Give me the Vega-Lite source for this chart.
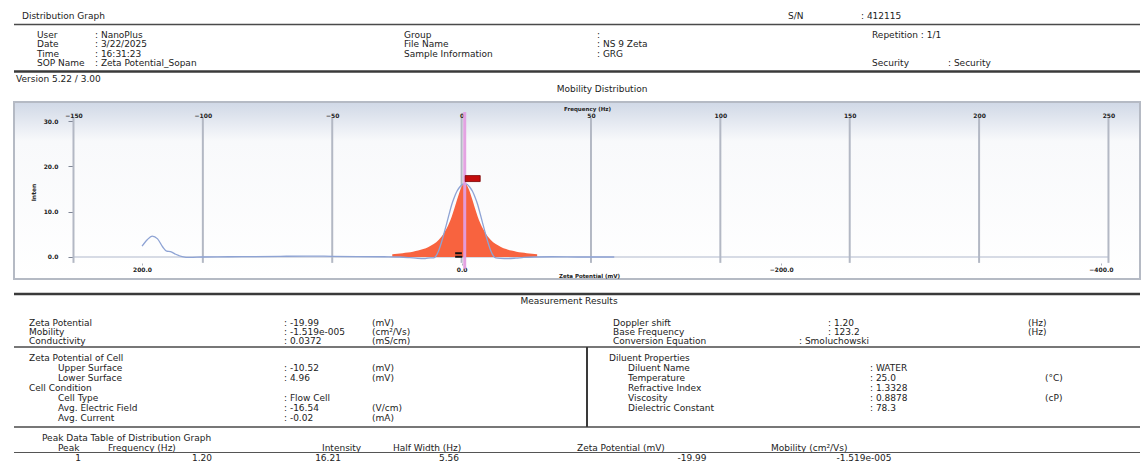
{
  "$schema": "https://vega.github.io/schema/vega-lite/v6.json",
  "padding": {"left": 12, "right": 4, "top": 0, "bottom": 0},
  "background": "white",
  "spacing": 0,
  "config": {
    "view": {"stroke": null},
    "font": "DejaVu Sans",
    "text": {"font": "DejaVu Sans", "fontSize": 9, "color": "#222222", "baseline": "middle"}
  },
  "datasets": {
    "header": [
      {"line": 1, "col": 2, "t": "Distribution Graph"},
      {"line": 1, "col": 8, "t": "S/N"},
      {"line": 1, "col": 9, "t": ": 412115"},
      {"line": 3, "col": 3, "t": "User"},
      {"line": 3, "col": 4, "t": ": NanoPlus"},
      {"line": 3, "col": 5, "t": "Group"},
      {"line": 3, "col": 6, "t": ":"},
      {"line": 3, "col": 10, "t": "Repetition : 1/1"},
      {"line": 4, "col": 3, "t": "Date"},
      {"line": 4, "col": 4, "t": ": 3/22/2025"},
      {"line": 4, "col": 5, "t": "File Name"},
      {"line": 4, "col": 6, "t": ": NS 9 Zeta"},
      {"line": 5, "col": 3, "t": "Time"},
      {"line": 5, "col": 4, "t": ": 16:31:23"},
      {"line": 5, "col": 5, "t": "Sample Information"},
      {"line": 5, "col": 6, "t": ": GRG"},
      {"line": 6, "col": 3, "t": "SOP Name"},
      {"line": 6, "col": 4, "t": ": Zeta Potential_Sopan"},
      {"line": 6, "col": 10, "t": "Security"},
      {"line": 6, "col": 11, "t": ": Security"},
      {"line": 8, "col": 1, "t": "Version 5.22 / 3.00"}
    ],
    "headerCenter": [
      {"line": 9, "col": 7, "t": "Mobility Distribution"}
    ],
    "results": [
      {"line": 3, "col": 1, "t": "Zeta Potential"},
      {"line": 3, "col": 7, "t": ": -19.99"},
      {"line": 3, "col": 10, "t": "(mV)"},
      {"line": 3, "col": 17, "t": "Doppler shift"},
      {"line": 3, "col": 22, "t": ": 1.20"},
      {"line": 3, "col": 25, "t": "(Hz)"},
      {"line": 4, "col": 1, "t": "Mobility"},
      {"line": 4, "col": 7, "t": ": -1.519e-005"},
      {"line": 4, "col": 10, "t": "(cm²/Vs)"},
      {"line": 4, "col": 17, "t": "Base Frequency"},
      {"line": 4, "col": 22, "t": ": 123.2"},
      {"line": 4, "col": 25, "t": "(Hz)"},
      {"line": 5, "col": 1, "t": "Conductivity"},
      {"line": 5, "col": 7, "t": ": 0.0372"},
      {"line": 5, "col": 10, "t": "(mS/cm)"},
      {"line": 5, "col": 17, "t": "Conversion Equation"},
      {"line": 5, "col": 21, "t": ": Smoluchowski"},
      {"line": 7, "col": 1, "t": "Zeta Potential of Cell"},
      {"line": 7, "col": 16, "t": "Diluent Properties"},
      {"line": 8, "col": 3, "t": "Upper Surface"},
      {"line": 8, "col": 7, "t": ": -10.52"},
      {"line": 8, "col": 10, "t": "(mV)"},
      {"line": 8, "col": 18, "t": "Diluent Name"},
      {"line": 8, "col": 24, "t": ": WATER"},
      {"line": 9, "col": 3, "t": "Lower Surface"},
      {"line": 9, "col": 7, "t": ": 4.96"},
      {"line": 9, "col": 10, "t": "(mV)"},
      {"line": 9, "col": 18, "t": "Temperature"},
      {"line": 9, "col": 24, "t": ": 25.0"},
      {"line": 9, "col": 26, "t": "(°C)"},
      {"line": 10, "col": 1, "t": "Cell Condition"},
      {"line": 10, "col": 18, "t": "Refractive Index"},
      {"line": 10, "col": 24, "t": ": 1.3328"},
      {"line": 11, "col": 3, "t": "Cell Type"},
      {"line": 11, "col": 7, "t": ": Flow Cell"},
      {"line": 11, "col": 18, "t": "Viscosity"},
      {"line": 11, "col": 24, "t": ": 0.8878"},
      {"line": 11, "col": 26, "t": "(cP)"},
      {"line": 12, "col": 3, "t": "Avg. Electric Field"},
      {"line": 12, "col": 7, "t": ": -16.54"},
      {"line": 12, "col": 10, "t": "(V/cm)"},
      {"line": 12, "col": 18, "t": "Dielectric Constant"},
      {"line": 12, "col": 24, "t": ": 78.3"},
      {"line": 13, "col": 3, "t": "Avg. Current"},
      {"line": 13, "col": 7, "t": ": -0.02"},
      {"line": 13, "col": 10, "t": "(mA)"},
      {"line": 15, "col": 2, "t": "Peak Data Table of Distribution Graph"},
      {"line": 16, "col": 3, "t": "Peak"},
      {"line": 16, "col": 5, "t": "Frequency (Hz)"},
      {"line": 16, "col": 8, "t": "Intensity"},
      {"line": 16, "col": 11, "t": "Half Width (Hz)"},
      {"line": 16, "col": 14, "t": "Zeta Potential (mV)"},
      {"line": 16, "col": 20, "t": "Mobility (cm²/Vs)"}
    ],
    "resultsCenter": [
      {"line": 2, "col": 13, "t": "Measurement Results"},
      {"line": 18, "col": 4, "t": "1"},
      {"line": 18, "col": 6, "t": "1.20"},
      {"line": 18, "col": 9, "t": "16.21"},
      {"line": 18, "col": 12, "t": "5.56"},
      {"line": 18, "col": 19, "t": "-19.99"},
      {"line": 18, "col": 23, "t": "-1.519e-005"}
    ],
    "gridFreq": [
      {"freq": -150}, {"freq": -100}, {"freq": -50}, {"freq": 0}, {"freq": 50},
      {"freq": 100}, {"freq": 150}, {"freq": 200}, {"freq": 250}
    ],
    "fit": [
      {"freq": -26.8, "intensity": 0.0},
      {"freq": -26.8, "intensity": 0.62},
      {"freq": -24.8, "intensity": 0.71},
      {"freq": -22.8, "intensity": 0.83},
      {"freq": -20.8, "intensity": 0.97},
      {"freq": -18.8, "intensity": 1.16},
      {"freq": -16.8, "intensity": 1.41},
      {"freq": -14.8, "intensity": 1.75},
      {"freq": -12.8, "intensity": 2.21},
      {"freq": -10.8, "intensity": 2.86},
      {"freq": -8.8, "intensity": 3.83},
      {"freq": -7.8, "intensity": 4.48},
      {"freq": -6.8, "intensity": 5.28},
      {"freq": -5.8, "intensity": 6.27},
      {"freq": -4.8, "intensity": 7.49},
      {"freq": -3.8, "intensity": 8.96},
      {"freq": -2.8, "intensity": 10.68},
      {"freq": -1.8, "intensity": 12.56},
      {"freq": -0.8, "intensity": 14.35},
      {"freq": 0.2, "intensity": 15.70},
      {"freq": 1.2, "intensity": 16.21},
      {"freq": 2.2, "intensity": 15.70},
      {"freq": 3.2, "intensity": 14.35},
      {"freq": 4.2, "intensity": 12.56},
      {"freq": 5.2, "intensity": 10.68},
      {"freq": 6.2, "intensity": 8.96},
      {"freq": 7.2, "intensity": 7.49},
      {"freq": 8.2, "intensity": 6.27},
      {"freq": 9.2, "intensity": 5.28},
      {"freq": 10.2, "intensity": 4.48},
      {"freq": 11.2, "intensity": 3.83},
      {"freq": 13.2, "intensity": 2.86},
      {"freq": 15.2, "intensity": 2.21},
      {"freq": 17.2, "intensity": 1.75},
      {"freq": 19.2, "intensity": 1.41},
      {"freq": 21.2, "intensity": 1.16},
      {"freq": 23.2, "intensity": 0.97},
      {"freq": 25.2, "intensity": 0.83},
      {"freq": 27.2, "intensity": 0.71},
      {"freq": 29.2, "intensity": 0.62},
      {"freq": 29.2, "intensity": 0.0}
    ],
    "measured": [
      {"freq": -123.5, "intensity": 2.4},
      {"freq": -121.5, "intensity": 3.8},
      {"freq": -119.6, "intensity": 4.6},
      {"freq": -117.5, "intensity": 4.0},
      {"freq": -115.5, "intensity": 2.2},
      {"freq": -114.0, "intensity": 1.3},
      {"freq": -112.5, "intensity": 1.2},
      {"freq": -110.5, "intensity": 0.6},
      {"freq": -108.0, "intensity": 0.1},
      {"freq": -105.0, "intensity": -0.1},
      {"freq": -100.0, "intensity": 0.0},
      {"freq": -90.0, "intensity": 0.05},
      {"freq": -80.0, "intensity": 0.1},
      {"freq": -70.0, "intensity": 0.15},
      {"freq": -60.0, "intensity": 0.2},
      {"freq": -50.0, "intensity": 0.15},
      {"freq": -40.0, "intensity": 0.1},
      {"freq": -30.0, "intensity": 0.05},
      {"freq": -24.0, "intensity": 0.0},
      {"freq": -20.0, "intensity": -0.15},
      {"freq": -17.0, "intensity": -0.3},
      {"freq": -14.0, "intensity": -0.35},
      {"freq": -12.0, "intensity": -0.2},
      {"freq": -10.8, "intensity": -0.2},
      {"freq": -9.8, "intensity": 0.3},
      {"freq": -8.8, "intensity": 1.5},
      {"freq": -7.8, "intensity": 3.2},
      {"freq": -6.8, "intensity": 5.2},
      {"freq": -5.8, "intensity": 7.3},
      {"freq": -4.8, "intensity": 9.5},
      {"freq": -3.8, "intensity": 11.6},
      {"freq": -2.8, "intensity": 13.2},
      {"freq": -1.8, "intensity": 14.5},
      {"freq": -0.8, "intensity": 15.4},
      {"freq": 0.2, "intensity": 16.0},
      {"freq": 1.2, "intensity": 16.2},
      {"freq": 2.2, "intensity": 16.0},
      {"freq": 3.2, "intensity": 15.4},
      {"freq": 4.2, "intensity": 14.5},
      {"freq": 5.2, "intensity": 13.2},
      {"freq": 6.2, "intensity": 11.6},
      {"freq": 7.2, "intensity": 9.5},
      {"freq": 8.2, "intensity": 7.3},
      {"freq": 9.2, "intensity": 5.2},
      {"freq": 10.2, "intensity": 3.2},
      {"freq": 11.2, "intensity": 1.5},
      {"freq": 12.2, "intensity": 0.3},
      {"freq": 13.2, "intensity": -0.2},
      {"freq": 15.0, "intensity": -0.3},
      {"freq": 18.0, "intensity": -0.35},
      {"freq": 21.0, "intensity": -0.25},
      {"freq": 24.0, "intensity": -0.1},
      {"freq": 28.0, "intensity": 0.0},
      {"freq": 35.0, "intensity": 0.05},
      {"freq": 45.0, "intensity": 0.0},
      {"freq": 59.0, "intensity": 0.0}
    ],
    "peaks": [
      {"peak": 1, "freq": 1.2, "intensity": 16.21, "halfWidth": 5.56, "zeta": -19.99}
    ]
  },
  "vconcat": [
    {
      "width": 1126,
      "height": 101,
      "layer": [
        {
          "data": {"name": "header"},
          "mark": {"type": "text", "align": "left"},
          "encoding": {
            "x": {"field": "col", "type": "quantitative", "axis": null,
                  "scale": {"domain": [1,2,3,4,5,6,7,8,9,10,11], "range": [2,8,23,81,390,583,588,774,847,858,934], "nice": false, "zero": false}},
            "y": {"field": "line", "type": "quantitative", "axis": null,
                  "scale": {"domain": [1,2,3,4,5,6,7,8,9], "range": [16,24.5,34.5,44,53.5,63,71.5,79,89], "nice": false, "zero": false}},
            "text": {"field": "t"}
          }
        },
        {
          "data": {"name": "headerCenter"},
          "mark": {"type": "text", "align": "center"},
          "encoding": {
            "x": {"field": "col", "type": "quantitative", "axis": null,
                  "scale": {"domain": [1,2,3,4,5,6,7,8,9,10,11], "range": [2,8,23,81,390,583,588,774,847,858,934], "nice": false, "zero": false}},
            "y": {"field": "line", "type": "quantitative", "axis": null,
                  "scale": {"domain": [1,2,3,4,5,6,7,8,9], "range": [16,24.5,34.5,44,53.5,63,71.5,79,89], "nice": false, "zero": false}},
            "text": {"field": "t"}
          }
        },
        {
          "data": {"values": [{}]},
          "mark": {"type": "rule", "color": "#4a4a4a", "strokeWidth": 1.5},
          "encoding": {
            "y": {"datum": 2, "type": "quantitative", "axis": null,
                  "scale": {"domain": [1,2,3,4,5,6,7,8,9], "range": [16,24.5,34.5,44,53.5,63,71.5,79,89], "nice": false, "zero": false}}
          }
        },
        {
          "data": {"values": [{}]},
          "mark": {"type": "rule", "color": "#3a3a3a", "strokeWidth": 2.5},
          "encoding": {
            "y": {"datum": 7, "type": "quantitative", "axis": null,
                  "scale": {"domain": [1,2,3,4,5,6,7,8,9], "range": [16,24.5,34.5,44,53.5,63,71.5,79,89], "nice": false, "zero": false}}
          }
        }
      ]
    },
    {
      "width": 1126,
      "height": 177,
      "view": {
        "stroke": "#b5bac4",
        "strokeWidth": 2,
        "fill": {"gradient": "linear", "x1": 0, "y1": 0, "x2": 0, "y2": 1,
                 "stops": [{"offset": 0, "color": "#d0d8e6"}, {"offset": 0.22, "color": "#f8f9fb"}, {"offset": 1, "color": "#ffffff"}]}
      },
      "resolve": {"scale": {"x": "independent"}, "axis": {"x": "independent", "y": "independent"}},
      "layer": [
        {
          "data": {"name": "gridFreq"},
          "mark": {"type": "rule", "color": "#b3b8c4", "strokeWidth": 2},
          "encoding": {
            "x": {"field": "freq", "type": "quantitative",
                  "scale": {"domain": [-172.99, 262.19], "nice": false, "zero": false},
                  "axis": {"orient": "top", "offset": -17, "values": [-150,-100,-50,0,50,100,150,200,250], "format": "d",
                           "domain": false, "ticks": false, "tickSize": 0, "labelPadding": 1, "grid": false,
                           "labelFontSize": 6, "labelFontWeight": "bold", "labelColor": "#222", "labelFlush": false,
                           "title": "Frequency (Hz)", "titleFontSize": 5.5, "titleFontWeight": "bold", "titleColor": "#222",
                           "titleX": 573, "titleY": -11, "titleAlign": "center", "titleBaseline": "middle"}},
            "y": {"datum": -1.3, "type": "quantitative", "axis": null,
                  "scale": {"domain": [-4.86, 34.22], "nice": false, "zero": false}},
            "y2": {"datum": 30.7}
          }
        },
        {
          "data": {"values": [{}]},
          "mark": {"type": "rule", "color": "#b0b8cc", "strokeWidth": 1.2},
          "encoding": {
            "x": {"datum": -150, "type": "quantitative", "axis": null,
                  "scale": {"domain": [-172.99, 262.19], "nice": false, "zero": false}},
            "x2": {"datum": 250},
            "y": {"datum": 0, "type": "quantitative", "axis": null,
                  "scale": {"domain": [-4.86, 34.22], "nice": false, "zero": false}}
          }
        },
        {
          "data": {"name": "fit"},
          "mark": {"type": "area", "color": "#f8633f", "opacity": 1, "interpolate": "monotone"},
          "encoding": {
            "x": {"field": "freq", "type": "quantitative", "axis": null,
                  "scale": {"domain": [-172.99, 262.19], "nice": false, "zero": false}},
            "y": {"field": "intensity", "type": "quantitative",
                  "scale": {"domain": [-4.86, 34.22], "nice": false, "zero": false},
                  "axis": {"orient": "left", "offset": -59, "values": [0,10,20,30], "format": ".1f",
                           "domain": false, "ticks": true, "tickSize": 5, "tickColor": "#7f8696", "labelPadding": 10, "grid": false,
                           "labelFontSize": 6, "labelFontWeight": "bold", "labelColor": "#222",
                           "title": "Inten", "titleFontSize": 6, "titleFontWeight": "bold", "titleColor": "#222",
                           "titleX": -40, "titleY": 90, "titleAngle": 270, "titleAlign": "center", "titleBaseline": "middle"}},
            "y2": {"datum": 0}
          }
        },
        {
          "data": {"name": "measured"},
          "mark": {"type": "line", "color": "#8ea3d4", "strokeWidth": 1.3, "interpolate": "monotone"},
          "encoding": {
            "x": {"field": "freq", "type": "quantitative", "axis": null,
                  "scale": {"domain": [-172.99, 262.19], "nice": false, "zero": false}},
            "y": {"field": "intensity", "type": "quantitative", "axis": null,
                  "scale": {"domain": [-4.86, 34.22], "nice": false, "zero": false}}
          }
        },
        {
          "data": {"name": "peaks"},
          "mark": {"type": "rule", "color": "#e39ee0", "strokeWidth": 3, "opacity": 0.95},
          "encoding": {
            "x": {"field": "freq", "type": "quantitative", "axis": null,
                  "scale": {"domain": [-172.99, 262.19], "nice": false, "zero": false}},
            "y": {"datum": -2.6, "type": "quantitative", "axis": null,
                  "scale": {"domain": [-4.86, 34.22], "nice": false, "zero": false}},
            "y2": {"datum": 32}
          }
        },
        {
          "data": {"name": "peaks"},
          "mark": {"type": "point", "shape": "M-1,-0.4H1V0.4H-1Z", "filled": true, "color": "#c40d0d", "opacity": 1,
                   "size": 225, "xOffset": 8, "yOffset": -5, "stroke": "#7a0000", "strokeWidth": 0.8},
          "encoding": {
            "x": {"field": "freq", "type": "quantitative", "axis": null,
                  "scale": {"domain": [-172.99, 262.19], "nice": false, "zero": false}},
            "y": {"field": "intensity", "type": "quantitative", "axis": null,
                  "scale": {"domain": [-4.86, 34.22], "nice": false, "zero": false}}
          }
        },
        {
          "data": {"name": "peaks"},
          "mark": {"type": "point", "shape": "M-1,-0.8H0.9V-0.2H-1Z M-1,0.2H1V0.8H-1Z", "filled": true, "color": "#111", "opacity": 1,
                   "size": 50, "xOffset": -6, "yOffset": -2},
          "encoding": {
            "x": {"field": "freq", "type": "quantitative", "axis": null,
                  "scale": {"domain": [-172.99, 262.19], "nice": false, "zero": false}},
            "y": {"datum": 0, "type": "quantitative", "axis": null,
                  "scale": {"domain": [-4.86, 34.22], "nice": false, "zero": false}}
          }
        },
        {
          "data": {"name": "peaks"},
          "mark": {"type": "point", "opacity": 0},
          "encoding": {
            "x": {"field": "zeta", "type": "quantitative",
                  "scale": {"domain": [280.1, -424.5], "nice": false, "zero": false},
                  "axis": {"orient": "bottom", "offset": -16, "values": [200, 0, -200, -400], "format": ".1f",
                           "domain": false, "ticks": true, "tickSize": 2, "tickColor": "#aab0bd", "labelPadding": 1, "grid": false,
                           "labelFontSize": 6, "labelFontWeight": "bold", "labelColor": "#222", "labelFlush": false,
                           "title": "Zeta Potential (mV)", "titleFontSize": 5.5, "titleFontWeight": "bold", "titleColor": "#222",
                           "titleX": 575, "titleY": 12, "titleAlign": "center", "titleBaseline": "middle"}},
            "y": {"field": "intensity", "type": "quantitative", "axis": null,
                  "scale": {"domain": [-4.86, 34.22], "nice": false, "zero": false}}
          }
        }
      ]
    },
    {
      "width": 1126,
      "height": 185,
      "layer": [
        {
          "data": {"name": "results"},
          "mark": {"type": "text", "align": "left"},
          "encoding": {
            "x": {"field": "col", "type": "quantitative", "axis": null,
                  "scale": {"domain": [1,2,3,4,5,6,7,8,9,10,11,12,13,14,15,16,17,18,19,20,21,22,23,24,25,26],
                            "range": [15,28,44,64,94,188,270,308,314,358,379,435,555,563,573,595,599,614,678,757,785,814,850,856,1014,1031],
                            "nice": false, "zero": false}},
            "y": {"field": "line", "type": "quantitative", "axis": null,
                  "scale": {"domain": [1,2,3,4,5,6,7,8,9,10,11,12,13,14,15,16,17,18],
                            "range": [14,21,43,52,61,67,78,88,98,108,118,128,138,147,157.5,167.5,172.5,178],
                            "nice": false, "zero": false}},
            "text": {"field": "t"}
          }
        },
        {
          "data": {"name": "resultsCenter"},
          "mark": {"type": "text", "align": "center"},
          "encoding": {
            "x": {"field": "col", "type": "quantitative", "axis": null,
                  "scale": {"domain": [1,2,3,4,5,6,7,8,9,10,11,12,13,14,15,16,17,18,19,20,21,22,23,24,25,26],
                            "range": [15,28,44,64,94,188,270,308,314,358,379,435,555,563,573,595,599,614,678,757,785,814,850,856,1014,1031],
                            "nice": false, "zero": false}},
            "y": {"field": "line", "type": "quantitative", "axis": null,
                  "scale": {"domain": [1,2,3,4,5,6,7,8,9,10,11,12,13,14,15,16,17,18],
                            "range": [14,21,43,52,61,67,78,88,98,108,118,128,138,147,157.5,167.5,172.5,178],
                            "nice": false, "zero": false}},
            "text": {"field": "t"}
          }
        },
        {
          "data": {"values": [{}]},
          "mark": {"type": "rule", "color": "#3a3a3a", "strokeWidth": 2.5},
          "encoding": {
            "y": {"datum": 1, "type": "quantitative", "axis": null,
                  "scale": {"domain": [1,2,3,4,5,6,7,8,9,10,11,12,13,14,15,16,17,18],
                            "range": [14,21,43,52,61,67,78,88,98,108,118,128,138,147,157.5,167.5,172.5,178],
                            "nice": false, "zero": false}}
          }
        },
        {
          "data": {"values": [{}]},
          "mark": {"type": "rule", "color": "#4a4a4a", "strokeWidth": 1.5},
          "encoding": {
            "y": {"datum": 6, "type": "quantitative", "axis": null,
                  "scale": {"domain": [1,2,3,4,5,6,7,8,9,10,11,12,13,14,15,16,17,18],
                            "range": [14,21,43,52,61,67,78,88,98,108,118,128,138,147,157.5,167.5,172.5,178],
                            "nice": false, "zero": false}}
          }
        },
        {
          "data": {"values": [{}]},
          "mark": {"type": "rule", "color": "#4a4a4a", "strokeWidth": 1.5},
          "encoding": {
            "y": {"datum": 14, "type": "quantitative", "axis": null,
                  "scale": {"domain": [1,2,3,4,5,6,7,8,9,10,11,12,13,14,15,16,17,18],
                            "range": [14,21,43,52,61,67,78,88,98,108,118,128,138,147,157.5,167.5,172.5,178],
                            "nice": false, "zero": false}}
          }
        },
        {
          "data": {"values": [{}]},
          "mark": {"type": "rule", "color": "#555555", "strokeWidth": 1},
          "encoding": {
            "y": {"datum": 17, "type": "quantitative", "axis": null,
                  "scale": {"domain": [1,2,3,4,5,6,7,8,9,10,11,12,13,14,15,16,17,18],
                            "range": [14,21,43,52,61,67,78,88,98,108,118,128,138,147,157.5,167.5,172.5,178],
                            "nice": false, "zero": false}}
          }
        },
        {
          "data": {"values": [{}]},
          "mark": {"type": "rule", "color": "#3a3a3a", "strokeWidth": 2},
          "encoding": {
            "x": {"datum": 15, "type": "quantitative", "axis": null,
                  "scale": {"domain": [1,2,3,4,5,6,7,8,9,10,11,12,13,14,15,16,17,18,19,20,21,22,23,24,25,26],
                            "range": [15,28,44,64,94,188,270,308,314,358,379,435,555,563,573,595,599,614,678,757,785,814,850,856,1014,1031],
                            "nice": false, "zero": false}},
            "y": {"datum": 6, "type": "quantitative", "axis": null,
                  "scale": {"domain": [1,2,3,4,5,6,7,8,9,10,11,12,13,14,15,16,17,18],
                            "range": [14,21,43,52,61,67,78,88,98,108,118,128,138,147,157.5,167.5,172.5,178],
                            "nice": false, "zero": false}},
            "y2": {"datum": 14}
          }
        }
      ]
    }
  ]
}
